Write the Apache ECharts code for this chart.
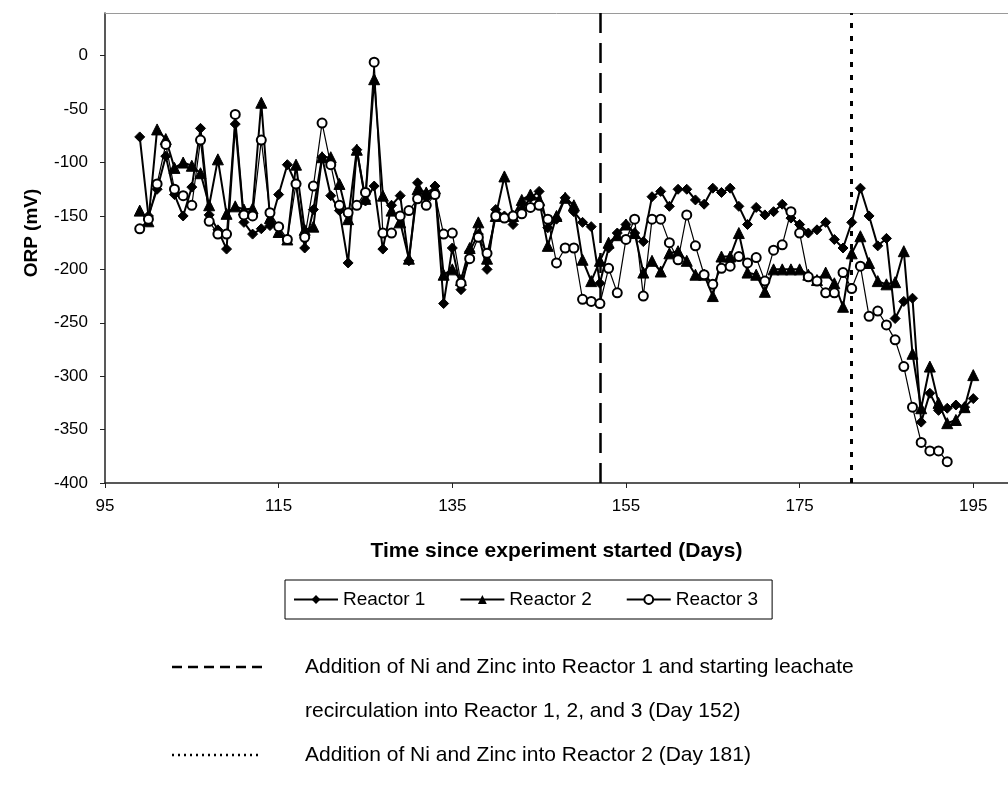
<!DOCTYPE html>
<html>
<head>
<meta charset="utf-8">
<script src="https://cdn.jsdelivr.net/npm/echarts@6/dist/echarts.min.js"></script>
<style>
  html, body { margin: 0; padding: 0; background: #fff; }
  #chart { width: 1008px; height: 789px; }
</style>
</head>
<body>
<div id="chart"></div>
<script>
// Sampling days (time since experiment started)
const days = [
  99, 100, 101, 102, 103, 104, 105, 106, 107, 108, 109, 110, 111, 112, 113, 114,
  115, 116, 117, 118, 119, 120, 121, 122, 123, 124, 125, 126, 127, 128, 129, 130,
  131, 132, 133, 134, 135, 136, 137, 138, 139, 140, 141, 142, 143, 144, 145, 146,
  147, 148, 149, 150, 151, 152, 153, 154, 155, 156, 157, 158, 159, 160, 161, 162,
  163, 164, 165, 166, 167, 168, 169, 170, 171, 172, 173, 174, 175, 176, 177, 178,
  179, 180, 181, 182, 183, 184, 185, 186, 187, 188, 189, 190, 191, 192, 193, 194, 195
];

// ORP readings (mV)
const reactor1 = [
  -76, -150, -125, -94, -130, -150, -123, -68, -149, -163, -181, -64, -156, -167, -162, -159,
  -130, -102, -120, -180, -144, -95, -131, -145, -194, -88, -136, -122, -181, -140, -131, -192,
  -119, -133, -122, -232, -180, -219, -183, -167, -200, -144, -150, -158, -144, -133, -127, -161,
  -153, -133, -146, -156, -160, -213, -180, -166, -158, -166, -174, -132, -127, -141, -125, -125,
  -135, -139, -124, -128, -124, -141, -158, -142, -149, -146, -139, -152, -158, -166, -163, -156,
  -172, -180, -156, -124, -150, -178, -171, -246, -230, -227, -343, -316, -332, -330, -327, -329, -321
];
const reactor2 = [
  -145, -155, -69, -78, -105, -100, -103, -110, -140, -97, -148, -141, -144, -143, -44, -152,
  -165, -172, -102, -163, -160, -95, -95, -120, -153, -88, -134, -22, -131, -145, -156, -190,
  -125, -128, -124, -205, -200, -210, -180, -156, -190, -150, -113, -150, -135, -130, -135, -178,
  -150, -133, -140, -191, -211, -192, -175, -168, -158, -166, -203, -192, -202, -185, -183, -192,
  -205, -205, -225, -188, -188, -166, -203, -205, -221, -200, -200, -200, -200, -205, -210, -203,
  -213, -235, -185, -169, -194, -211, -214, -212, -183, -279, -330, -291, -325, -344, -341, -329, -299
];
const reactor3 = [
  -162, -153, -120, -83, -125, -131, -140, -79, -155, -167, -167, -55, -149, -150, -79, -147,
  -160, -172, -120, -170, -122, -63, -102, -140, -147, -140, -128, -6, -166, -166, -150, -145,
  -134, -140, -130, -167, -166, -213, -190, -170, -185, -150, -152, -150, -148, -142, -140, -153,
  -194, -180, -180, -228, -230, -232, -199, -222, -172, -153, -225, -153, -153, -175, -191, -149,
  -178, -205, -214, -199, -197, -188, -194, -189, -211, -182, -177, -146, -166, -207, -211, -222,
  -222, -203, -218, -197, -244, -239, -252, -266, -291, -329, -362, -370, -370, -380
];

// Treatment events (day)
const eventDays = [152, 181];
const seriesNames = ['Reactor 1', 'Reactor 2', 'Reactor 3'];

const FONT = '"Liberation Sans", Arial, sans-serif';
const pairs = vals => vals.map((v, i) => [days[i], v]);

const X_MIN = 95, X_MAX = 199;

const chart = echarts.init(document.getElementById('chart'), null, { renderer: 'canvas' });

chart.setOption({
  animation: false,
  backgroundColor: '#fff',
  textStyle: { fontFamily: FONT, color: '#000' },
  grid: { left: 105, top: 13, bottom: 306, right: 0, show: false },
  xAxis: [
    {
      type: 'value', min: X_MIN, max: X_MAX, interval: 20,
      name: 'Time since experiment started (Days)',
      nameLocation: 'middle', nameGap: 58,
      nameTextStyle: { fontFamily: FONT, fontSize: 21, fontWeight: 'bold', color: '#000' },
      axisLine: { show: true, onZero: false, lineStyle: { color: '#222', width: 1.5 } },
      axisTick: { show: true, inside: false, length: 5, lineStyle: { color: '#222' } },
      axisLabel: { fontFamily: FONT, fontSize: 17, color: '#000', margin: 15, showMaxLabel: false },
      splitLine: { show: false }
    },
    {
      // plot frame along the top edge
      type: 'value', position: 'top', min: X_MIN, max: X_MAX,
      axisLine: { show: true, onZero: false, lineStyle: { color: '#9a9a9a', width: 1 } },
      axisTick: { show: false }, axisLabel: { show: false }, splitLine: { show: false }
    }
  ],
  yAxis: {
    type: 'value', min: -400, max: 40, interval: 50,
    name: 'ORP (mV)',
    nameLocation: 'middle', nameGap: 64, nameRotate: 90,
    nameTextStyle: { fontFamily: FONT, fontSize: 19, fontWeight: 'bold', color: '#000', padding: [0, 0, 0, 30] },
    axisLine: { show: true, onZero: false, lineStyle: { color: '#222', width: 1.5 } },
    axisTick: { show: true, inside: false, length: 5, lineStyle: { color: '#222' } },
    axisLabel: { fontFamily: FONT, fontSize: 17, color: '#000', margin: 17, showMaxLabel: false },
    splitLine: { show: false }
  },
  legend: {
    data: seriesNames,
    left: 285, top: 580,
    orient: 'horizontal',
    borderColor: '#000', borderWidth: 1,
    padding: [10, 14, 10, 8],
    itemGap: 34, itemWidth: 44, itemHeight: 11,
    textStyle: { fontFamily: FONT, fontSize: 19, color: '#000' }
  },
  series: [
    {
      name: seriesNames[0], type: 'line', data: pairs(reactor1),
      symbol: 'diamond', symbolSize: 10,
      lineStyle: { color: '#000', width: 2 },
      itemStyle: { color: '#000', borderColor: '#000' },
      z: 3,
      markLine: {
        silent: true, symbol: ['none', 'none'], label: { show: false },
        data: [
          { xAxis: eventDays[0], lineStyle: { color: '#000', width: 2.5, type: [20, 10] } },
          { xAxis: eventDays[1], lineStyle: { color: '#000', width: 3, type: [5, 8] } }
        ]
      }
    },
    {
      name: seriesNames[1], type: 'line', data: pairs(reactor2),
      symbol: 'triangle', symbolSize: 11,
      lineStyle: { color: '#000', width: 2 },
      itemStyle: { color: '#000', borderColor: '#000' },
      z: 4
    },
    {
      name: seriesNames[2], type: 'line', data: pairs(reactor3),
      symbol: 'emptyCircle', symbolSize: 9,
      lineStyle: { color: '#000', width: 1.2 },
      itemStyle: { color: '#000', borderColor: '#000', borderWidth: 1.3 },
      z: 5
    }
  ],
  graphic: [
    { type: 'line', shape: { x1: 172, y1: 667, x2: 262, y2: 667 },
      style: { stroke: '#000', lineWidth: 2.5, lineDash: [10, 6] } },
    { type: 'text', x: 305, y: 667,
      style: { text: 'Addition of Ni and Zinc into Reactor 1 and starting leachate',
               font: '21px ' + FONT, fill: '#000', verticalAlign: 'middle' } },
    { type: 'text', x: 305, y: 711,
      style: { text: 'recirculation into Reactor 1, 2, and 3 (Day 152)',
               font: '21px ' + FONT, fill: '#000', verticalAlign: 'middle' } },
    { type: 'line', shape: { x1: 172, y1: 755, x2: 262, y2: 755 },
      style: { stroke: '#000', lineWidth: 2.5, lineDash: [2, 4] } },
    { type: 'text', x: 305, y: 755,
      style: { text: 'Addition of Ni and Zinc into Reactor 2 (Day 181)',
               font: '21px ' + FONT, fill: '#000', verticalAlign: 'middle' } }
  ]
});
</script>
</body>
</html>
